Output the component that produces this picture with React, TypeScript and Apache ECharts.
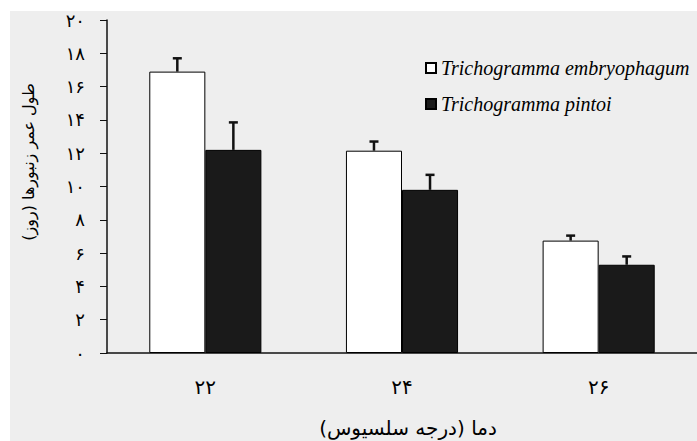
import React, { useEffect, useRef } from "react";
import * as echarts from "echarts";

const categories = ["۲۲", "۲۴", "۲۶"];
const yTickLabels = ["۰", "۲", "۴", "۶", "۸", "۱۰", "۱۲", "۱۴", "۱۶", "۱۸", "۲۰"];
const seriesNames = ["Trichogramma embryophagum", "Trichogramma pintoi"];
const embryoMeans = [16.9, 12.15, 6.75];
const embryoErrors = [0.8, 0.55, 0.3];
const pintoiMeans = [12.2, 9.8, 5.3];
const pintoiErrors = [1.65, 0.9, 0.5];
const xTitle = "دما (درجه سلسیوس)";
const yTitle = "طول عمر زنبورها (روز)";

const BAR_FRAC = 0.285;
const persianFont = "'DejaVu Sans', sans-serif";

function errorSeries(means: number[], errs: number[], side: number) {
  return {
    type: "custom",
    z: 5,
    silent: true,
    data: means.map((m, i) => [i, m, errs[i]]),
    encode: { x: 0, y: 1 },
    renderItem: (params: any, api: any) => {
      const idx = api.value(0);
      const mean = api.value(1);
      const err = api.value(2);
      const band = api.size([1, 0])[0];
      const off = (side * band * BAR_FRAC) / 2;
      const base = api.coord([idx, mean]);
      const top = api.coord([idx, mean + err]);
      const x = base[0] + off;
      const style = { stroke: "#111", lineWidth: 2.5 };
      return {
        type: "group",
        children: [
          { type: "line", shape: { x1: x, y1: base[1], x2: x, y2: top[1] }, style },
          { type: "line", shape: { x1: x - 4.5, y1: top[1], x2: x + 4.5, y2: top[1] }, style },
        ],
      };
    },
  };
}

export default function App() {
  const ref = useRef<HTMLDivElement>(null);
  useEffect(() => {
    if (!ref.current) return;
    const chart = echarts.init(ref.current, undefined, { renderer: "svg" });
    chart.setOption({
      animation: false,
      backgroundColor: "#eeeeee",
      grid: { left: 97, top: 9, width: 600, height: 333 },
      legend: {
        data: seriesNames,
        orient: "vertical",
        left: 410,
        top: 42,
        itemWidth: 10,
        itemHeight: 10,
        itemGap: 16,
        icon: "rect",
        textStyle: {
          fontFamily: "'Liberation Serif', serif",
          fontStyle: "italic",
          fontSize: 20,
          color: "#000",
        },
      },
      xAxis: {
        type: "category",
        data: categories,
        axisTick: { show: false },
        axisLine: { lineStyle: { color: "#111", width: 1.5 } },
        axisLabel: { fontSize: 20, color: "#000", margin: 24, fontFamily: persianFont },
      },
      yAxis: {
        type: "value",
        min: 0,
        max: 20,
        interval: 2,
        splitLine: { show: false },
        axisLine: { show: true, lineStyle: { color: "#111", width: 1.5 } },
        axisTick: { show: true, length: 7, lineStyle: { color: "#111" } },
        axisLabel: {
          fontSize: 18,
          color: "#000",
          margin: 22,
          fontFamily: persianFont,
          formatter: (v: number) => yTickLabels[Math.round(v / 2)],
        },
      },
      graphic: [
        {
          type: "text",
          x: 398,
          y: 417,
          style: {
            text: xTitle,
            fontSize: 20,
            fontFamily: persianFont,
            fill: "#000",
            align: "center",
            verticalAlign: "middle",
          },
        },
        {
          type: "text",
          x: 18,
          y: 151,
          rotation: Math.PI / 2,
          style: {
            text: yTitle,
            fontSize: 16,
            fontFamily: persianFont,
            fill: "#000",
            align: "center",
            verticalAlign: "middle",
          },
        },
      ],
      series: [
        {
          name: seriesNames[0],
          type: "bar",
          data: embryoMeans,
          barWidth: BAR_FRAC * 100 + "%",
          barGap: "0%",
          itemStyle: { color: "#ffffff", borderColor: "#000", borderWidth: 1 },
        },
        {
          name: seriesNames[1],
          type: "bar",
          data: pintoiMeans,
          barWidth: BAR_FRAC * 100 + "%",
          barGap: "0%",
          itemStyle: { color: "#1a1a1a", borderColor: "#000", borderWidth: 1 },
        },
        errorSeries(embryoMeans, embryoErrors, -1),
        errorSeries(pintoiMeans, pintoiErrors, 1),
      ],
    });
    return () => chart.dispose();
  }, []);
  return (
    <div
      ref={ref}
      style={{ position: "absolute", left: 10, top: 11, width: 687, height: 430 }}
    />
  );
}
